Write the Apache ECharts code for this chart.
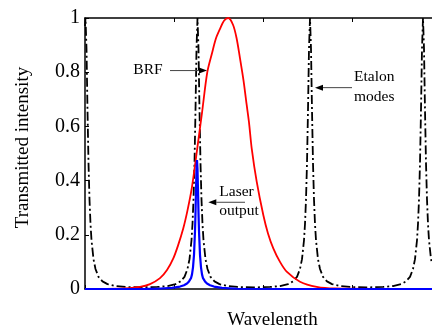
<!DOCTYPE html>
<html><head><meta charset="utf-8">
<script src="https://cdn.jsdelivr.net/npm/echarts@6/dist/echarts.min.js"></script>
<style>html,body{margin:0;padding:0;background:#fff}#c{width:432px;height:325px}</style>
</head><body><div id="c"></div>
<script>
// Wavelength in arbitrary units (tick spacing 89)
const etalonX = [0,0.5,1.5,2.5,3.5,4.5,5.5,6.5,8.5,10.5,13.5,17.5,22.5,30.5,40.5,56.5,
  72.5,82.5,90.5,95.5,99.5,102.5,104.5,106.5,107.5,108.5,109.5,110.5,111.5,112.5,113.5,114.5,115.5,116.5,117.5,118.5,120.5,122.5,125.5,129.5,134.5,142.5,152.5,169,
  185,195,203,208,212,215,217,219,220,221,222,223,224,225,226,227,228,229,230,231,233,235,238,242,247,255,265,281.5,
  298,308,316,321,325,328,330,332,333,334,335,336,337,338,339,340,341,342,343,344,346,347];
const etalonY = [0.97,1,0.887,0.66,0.465,0.33,0.24,0.18,0.11,0.074,0.045,0.028,0.018,0.011,0.0075,0.006,
  0.0075,0.011,0.018,0.028,0.045,0.074,0.11,0.18,0.24,0.33,0.465,0.66,0.887,1,0.887,0.66,0.465,0.33,0.24,0.18,0.11,0.074,0.045,0.028,0.018,0.011,0.0075,0.006,
  0.0075,0.011,0.018,0.028,0.045,0.074,0.11,0.18,0.24,0.33,0.465,0.66,0.887,1,0.887,0.66,0.465,0.33,0.24,0.18,0.11,0.074,0.045,0.028,0.018,0.011,0.0075,0.006,
  0.0075,0.011,0.018,0.028,0.045,0.074,0.11,0.18,0.24,0.33,0.465,0.66,0.887,1,0.887,0.66,0.465,0.33,0.24,0.18,0.11,0.095];
const brfX = [0,35,55,65,75,82,88.3,93,98.3,102.5,106.7,112.3,117,122.3,127,131,135,139,143.3,148,151.5,155,158.5,161.7,164,166.7,171.7,178.3,183,188.3,195,201.7,215,231.7,250,347];
const brfY = [0,0.001,0.008,0.018,0.04,0.07,0.113,0.16,0.224,0.29,0.37,0.52,0.65,0.80,0.87,0.925,0.96,0.99,1,0.975,0.927,0.851,0.77,0.679,0.615,0.519,0.396,0.273,0.205,0.15,0.10,0.064,0.027,0.008,0.002,0];
const laserX = [0,60,72,87,95,99,102,104,106,107,108,109,110,110.5,111,111.5,112,112.5,113,113.5,114,115,116,117,118,120,122,125,129,137,152,200,347];
const laserY = [0,0.0005,0.001,0.004,0.009,0.014,0.02,0.028,0.04,0.054,0.08,0.126,0.213,0.281,0.364,0.442,0.476,0.442,0.364,0.281,0.213,0.126,0.08,0.054,0.04,0.028,0.02,0.014,0.009,0.004,0.001,0,0];
const yTickStep = 0.2;
const annoTexts = [
  {text:'BRF', x:63, y:0.808, align:'center'},
  {text:'Etalon', x:269, y:0.783, align:'left'},
  {text:'modes', x:269, y:0.71, align:'left'},
  {text:'Laser', x:134.3, y:0.357, align:'left'},
  {text:'output', x:134.3, y:0.288, align:'left'}
];
const annoArrows = [
  {from:[85,0.806], to:[122,0.806]},
  {from:[267,0.743], to:[230,0.743]},
  {from:[160,0.32], to:[123.3,0.32]}
];

const zip = (xs, ys) => xs.map((x, i) => [x, ys[i]]);
const serif = '"Liberation Serif", "Times New Roman", serif';
const chart = echarts.init(document.getElementById('c'), null, {renderer:'canvas'});
const axisCommon = {
  type:'value', min:0, max:347, interval:89,
  axisLabel:{show:false}, splitLine:{show:false},
  axisLine:{lineStyle:{color:'#000', width:1.5}},
  axisTick:{inside:true, length:4, lineStyle:{color:'#000'}}
};
chart.setOption({
  animation:false,
  backgroundColor:'#fff',
  grid:{left:85, top:18, right:0, bottom:36, containLabel:false, outerBoundsMode:'none'},
  xAxis:[
    Object.assign({}, axisCommon, {position:'bottom', name:'Wavelength', nameLocation:'middle', nameGap:22,
      nameTextStyle:{fontFamily:serif, fontSize:19, color:'#000', padding:[0,0,0,28]}}),
    Object.assign({}, axisCommon, {position:'top'})
  ],
  yAxis:{
    type:'value', min:0, max:1, interval:yTickStep,
    name:'Transmitted intensity', nameLocation:'middle', nameGap:52,
    nameTextStyle:{fontFamily:serif, fontSize:19, color:'#000', padding:[0,0,0,12]},
    axisLine:{lineStyle:{color:'#000', width:1.5}},
    axisTick:{inside:true, length:4, lineStyle:{color:'#000'}},
    axisLabel:{fontFamily:serif, fontSize:20, color:'#000', margin:5},
    splitLine:{show:false}
  },
  series:[
    {type:'line', name:'Etalon modes', data:zip(etalonX, etalonY), showSymbol:false, symbol:'none',
      lineStyle:{color:'#000', width:1.8, type:[9,3,2,3]}, z:2},
    {type:'line', name:'BRF', data:zip(brfX, brfY), showSymbol:false, symbol:'none', smooth:0.3,
      lineStyle:{color:'#ff0000', width:1.8}, z:3},
    {type:'line', name:'Laser output', data:zip(laserX, laserY), showSymbol:false, symbol:'none',
      lineStyle:{color:'#0000ff', width:2.2}, z:4, clip:false}
  ]
});

const px = p => chart.convertToPixel({gridIndex:0}, p);
const graphics = [];
annoTexts.forEach(t => {
  const p = px([t.x, t.y]);
  graphics.push({type:'text', x:p[0], y:p[1], z:10,
    style:{text:t.text, fill:'#000', font:'15.5px ' + serif, align:t.align, verticalAlign:'middle'}});
});
annoArrows.forEach(a => {
  const p1 = px(a.from), p2 = px(a.to);
  const dir = p2[0] > p1[0] ? 1 : -1;
  const base = p2[0] - dir * 8;
  graphics.push({type:'line', z:10, shape:{x1:p1[0], y1:p1[1], x2:base, y2:p2[1]},
    style:{stroke:'#444', lineWidth:1}});
  graphics.push({type:'polygon', z:10, shape:{points:[[p2[0], p2[1]], [base, p2[1]-3], [base, p2[1]+3]]},
    style:{fill:'#000'}});
});
chart.setOption({graphic:graphics});
</script>
</body></html>
